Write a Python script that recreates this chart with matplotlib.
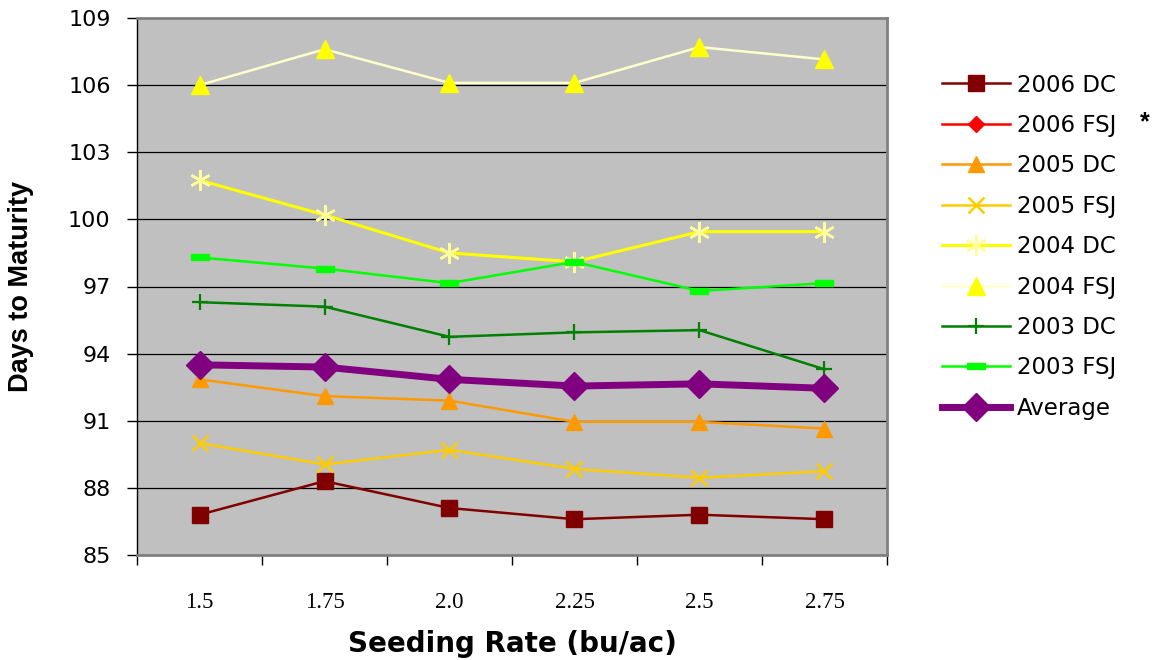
import numpy as np
import matplotlib.pyplot as plt
from matplotlib.ticker import FixedLocator

# -------------------------
# Data: days to maturity by seeding rate
# -------------------------
rates = ["1.5", "1.75", "2.0", "2.25", "2.5", "2.75"]

dc_2006 = [86.8, 88.3, 87.1, 86.6, 86.8, 86.6]
fsj_2006 = [np.nan] * 6          # no data for this site-year
dc_2005 = [92.85, 92.1, 91.9, 90.95, 90.95, 90.65]
fsj_2005 = [90.0, 89.05, 89.7, 88.85, 88.45, 88.75]
dc_2004 = [101.75, 100.2, 98.5, 98.1, 99.45, 99.45]
fsj_2004 = [106.0, 107.6, 106.1, 106.1, 107.7, 107.15]
dc_2003 = [96.3, 96.1, 94.75, 94.95, 95.05, 93.3]
fsj_2003 = [98.3, 97.8, 97.15, 98.1, 96.8, 97.15]
average = [93.5, 93.4, 92.85, 92.55, 92.65, 92.45]

series_names = ["2006 DC", "2006 FSJ", "2005 DC", "2005 FSJ", "2004 DC",
                "2004 FSJ", "2003 DC", "2003 FSJ", "Average"]
series_vals = [dc_2006, fsj_2006, dc_2005, fsj_2005, dc_2004,
               fsj_2004, dc_2003, fsj_2003, average]

y_ticks = [85, 88, 91, 94, 97, 100, 103, 106, 109]

# -------------------------
# Styles
# -------------------------
dash_marker = [(-1.6, -0.45), (1.6, -0.45), (1.6, 0.45), (-1.6, 0.45), (-1.6, -0.45)]

styles = [
    dict(color="#800000", marker="s", ms=11, mfc="#800000", mec="#800000", lw=1.8),
    dict(color="#FF0000", marker="D", ms=8, mfc="#FF0000", mec="#FF0000", lw=1.8),
    dict(color="#FF9900", marker="^", ms=12, mfc="#FF9900", mec="#FF9900", lw=1.8),
    dict(color="#FFCC00", marker="x", ms=11, mec="#FFCC00", mew=1.8, lw=1.8),
    dict(color="#FFFF00", marker=(6, 2, 0), ms=15, mec="#FFFF99", mew=1.8, lw=2.2),
    dict(color="#FFFFCC", marker="^", ms=13, mfc="#FFFF00", mec="#FFFF00", lw=1.8),
    dict(color="#008000", marker="+", ms=12, mec="#008000", mew=1.6, lw=1.8),
    dict(color="#00FF00", marker=dash_marker, ms=13, mfc="#00FF00", mec="#00FF00", lw=1.8),
    dict(color="#800080", marker="D", ms=14, mfc="#800080", mec="#800080", lw=5.0),
]

fig = plt.figure(figsize=(11.56, 6.6), dpi=100)
ax = fig.add_axes([137 / 1156, 1 - 555 / 660, 750 / 1156, 537 / 660])
ax.set_facecolor("#C0C0C0")

x = np.arange(len(rates))
for name, vals, st in zip(series_names, series_vals, styles):
    ax.plot(x, vals, label=name, solid_joinstyle="miter", clip_on=False, **st)

# -------------------------
# Axes formatting
# -------------------------
ax.set_xlim(-0.5, len(rates) - 0.5)
ax.set_ylim(85, 109)
ax.set_yticks(y_ticks)
ax.set_yticklabels([str(v) for v in y_ticks], fontsize=16, family="DejaVu Sans")
ax.tick_params(axis="y", length=7, width=1, color="black", pad=12)
ax.yaxis.grid(True, color="black", lw=0.9)
ax.set_axisbelow(True)

ax.set_xticks(x)
ax.set_xticklabels(rates, fontsize=16.5, family="Liberation Serif")
ax.tick_params(axis="x", which="major", length=0, pad=27)
ax.xaxis.set_minor_locator(FixedLocator(np.arange(-0.5, len(rates), 1.0)))
ax.tick_params(axis="x", which="minor", length=7, width=1, color="black")

for side in ["top", "right", "bottom"]:
    ax.spines[side].set_color("#808080")
    ax.spines[side].set_linewidth(2)
ax.spines["left"].set_color("black")
ax.spines["left"].set_linewidth(1)

ax.set_ylabel("Days to Maturity", fontsize=19.5, fontweight="bold",
              family="Liberation Sans")
ax.yaxis.set_label_coords(-0.137, 0.5)
ax.set_xlabel("Seeding Rate (bu/ac)", fontsize=20, fontweight="bold",
              family="DejaVu Sans")
ax.xaxis.set_label_coords(0.5, -0.1806)
ax.xaxis.label.set_va("baseline")

# -------------------------
# Legend
# -------------------------
leg = ax.legend(loc="upper left", bbox_to_anchor=(942 / 1156, 1 - 73.5 / 660),
                bbox_transform=fig.transFigure, frameon=False,
                prop={"family": "DejaVu Sans", "size": 16.5},
                handlelength=2.97, handletextpad=0.3, labelspacing=0.76,
                borderpad=0, borderaxespad=0)

fig.text(1145 / 1156, 1 - 122 / 660, "*", fontsize=18, fontweight="bold",
         family="Liberation Sans", ha="center", va="center")

fig.savefig("out.png", dpi=100)
